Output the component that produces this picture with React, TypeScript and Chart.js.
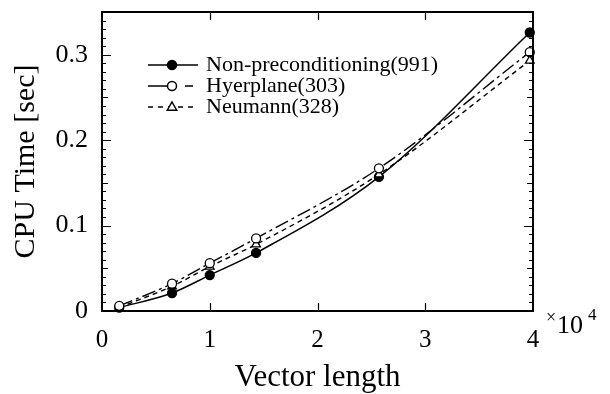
import React, { useEffect, useRef } from "react";
import { Chart, registerables } from "chart.js";

Chart.register(...registerables);

const vectorLength = [0.16, 0.65, 1.0, 1.43, 2.57, 3.97];
const nonPreconditioning = [0.004, 0.021, 0.042, 0.068, 0.157, 0.326];
const hyperplane = [0.006, 0.032, 0.056, 0.085, 0.167, 0.303];
const neumann = [0.004, 0.029, 0.052, 0.078, 0.16, 0.293];

const seriesLabels = ["Non-preconditioning(991)", "Hyerplane(303)", "Neumann(328)"];
const xTickValues = [0, 1, 2, 3, 4];
const yTickValues = [0, 0.1, 0.2, 0.3];
const yMinorStep = 0.01;

const SERIF = "'Liberation Serif', 'Times New Roman', serif";

const toPts = (ys: number[]) => ys.map((y, i) => ({ x: vectorLength[i], y }));

const framePlugin = {
  id: "frameTicks",
  afterDatasetsDraw(chart: any) {
    const { ctx, chartArea } = chart;
    const { left, right, top, bottom } = chartArea;
    const xs = chart.scales.x;
    const ys = chart.scales.y;
    ctx.save();
    ctx.strokeStyle = "#000";
    ctx.lineWidth = 2;
    ctx.strokeRect(left, top, right - left, bottom - top);
    ctx.lineWidth = 1.2;
    ctx.beginPath();
    const n = Math.round((ys.max - ys.min) / yMinorStep);
    for (let i = 1; i < n + 1; i++) {
      const v = ys.min + i * yMinorStep;
      if (v >= ys.max - 1e-9) break;
      const py = Math.round(ys.getPixelForValue(v)) + 0.5;
      let len = 4;
      if (i % 10 === 0) len = 9;
      else if (i % 5 === 0) len = 6;
      ctx.moveTo(left, py);
      ctx.lineTo(left + len, py);
      ctx.moveTo(right, py);
      ctx.lineTo(right - len, py);
    }
    xTickValues.forEach((v) => {
      if (v <= xs.min || v >= xs.max) return;
      const px = Math.round(xs.getPixelForValue(v)) + 0.5;
      ctx.moveTo(px, bottom);
      ctx.lineTo(px, bottom - 8);
      ctx.moveTo(px, top);
      ctx.lineTo(px, top + 8);
    });
    ctx.stroke();
    ctx.restore();
  },
  afterDraw(chart: any) {
    const { ctx } = chart;
    ctx.save();
    ctx.fillStyle = "#000";
    ctx.textBaseline = "alphabetic";
    ctx.textAlign = "left";
    ctx.font = `18px ${SERIF}`;
    ctx.fillText("×", 546, 323);
    ctx.font = `26px ${SERIF}`;
    ctx.fillText("10", 557, 333);
    ctx.font = `17px ${SERIF}`;
    ctx.fillText("4", 588, 320);
    ctx.restore();
  },
};

const legendPlugin = {
  id: "customLegend",
  afterDraw(chart: any) {
    const { ctx } = chart;
    const rows = [65, 86, 107];
    const dashes = [[], [20, 17, 8, 100], [5, 5]];
    ctx.save();
    rows.forEach((y, i) => {
      ctx.strokeStyle = "#000";
      ctx.lineWidth = 1.5;
      ctx.setLineDash(dashes[i]);
      ctx.beginPath();
      ctx.moveTo(148, y);
      ctx.lineTo(198, y);
      ctx.stroke();
      ctx.setLineDash([]);
      const mx = 172;
      ctx.beginPath();
      if (i === 2) {
        const r = 5;
        ctx.moveTo(mx, y - r);
        ctx.lineTo(mx + r * 0.95, y + r * 0.65);
        ctx.lineTo(mx - r * 0.95, y + r * 0.65);
        ctx.closePath();
      } else {
        ctx.arc(mx, y, 4.5, 0, Math.PI * 2);
      }
      ctx.fillStyle = i === 0 ? "#000" : "#fff";
      ctx.fill();
      ctx.stroke();
      ctx.fillStyle = "#000";
      ctx.font = `22px ${SERIF}`;
      ctx.textBaseline = "middle";
      ctx.textAlign = "left";
      ctx.fillText(seriesLabels[i], 206, y);
    });
    ctx.restore();
  },
};

export default function App() {
  const ref = useRef<HTMLCanvasElement>(null);
  useEffect(() => {
    if (!ref.current) return;
    const chart = new Chart(ref.current, {
      type: "line",
      data: {
        datasets: [
          {
            label: seriesLabels[1],
            data: toPts(hyperplane),
            borderColor: "#000",
            borderWidth: 1.4,
            borderDash: [14, 4, 3, 4],
            pointStyle: "circle",
            pointRadius: 4.5,
            pointBorderWidth: 1.3,
            pointBackgroundColor: "#fff",
            pointBorderColor: "#000",
            cubicInterpolationMode: "monotone",
            clip: false,
          },
          {
            label: seriesLabels[2],
            data: toPts(neumann),
            borderColor: "#000",
            borderWidth: 1.4,
            borderDash: [5, 4],
            pointStyle: "triangle",
            pointRadius: 5,
            pointBorderWidth: 1.3,
            pointBackgroundColor: "#fff",
            pointBorderColor: "#000",
            cubicInterpolationMode: "monotone",
            clip: false,
          },
          {
            label: seriesLabels[0],
            data: toPts(nonPreconditioning),
            borderColor: "#000",
            borderWidth: 1.5,
            pointStyle: "circle",
            pointRadius: 4.5,
            pointBorderWidth: 1.3,
            pointBackgroundColor: "#000",
            pointBorderColor: "#000",
            cubicInterpolationMode: "monotone",
            clip: false,
          },
        ],
      },
      options: {
        responsive: false,
        devicePixelRatio: 1,
        animation: false,
        layout: { padding: { top: 12, right: 77, left: 0, bottom: 0 } },
        plugins: { legend: { display: false }, tooltip: { enabled: false } },
        scales: {
          x: {
            type: "linear",
            min: 0,
            max: 4,
            grid: { display: false, drawTicks: false },
            border: { display: false },
            afterBuildTicks: (s: any) => {
              s.ticks = xTickValues.map((v) => ({ value: v }));
            },
            afterFit: (s: any) => {
              s.height = 83;
              s.paddingLeft = 0;
              s.paddingRight = 0;
            },
            ticks: {
              color: "#000",
              font: { family: SERIF, size: 25 },
              padding: 14,
              maxRotation: 0,
              callback: (v: any) => String(v),
            },
            title: {
              display: true,
              text: "Vector length",
              color: "#000",
              font: { family: SERIF, size: 31 },
              padding: { top: 0, bottom: -2 },
            },
          },
          y: {
            type: "linear",
            min: 0,
            max: 0.35,
            grid: { display: false, drawTicks: false },
            border: { display: false },
            afterBuildTicks: (s: any) => {
              s.ticks = yTickValues.map((v) => ({ value: v }));
            },
            afterFit: (s: any) => {
              s.width = 102;
              s.paddingTop = 0;
              s.paddingBottom = 0;
            },
            ticks: {
              color: "#000",
              font: { family: SERIF, size: 26 },
              padding: 14,
              callback: (v: any) => (v === 0 ? "0" : Number(v).toFixed(1)),
            },
            title: {
              display: true,
              text: "CPU Time [sec]",
              color: "#000",
              font: { family: SERIF, size: 30 },
              padding: { top: 8, bottom: 0 },
            },
          },
        },
      },
      plugins: [framePlugin, legendPlugin],
    } as any);
    return () => chart.destroy();
  }, []);
  return (
    <div style={{ position: "fixed", left: 0, top: 0, width: 610, height: 394, background: "#fff" }}>
      <canvas ref={ref} width={610} height={394} style={{ display: "block" }} />
    </div>
  );
}
